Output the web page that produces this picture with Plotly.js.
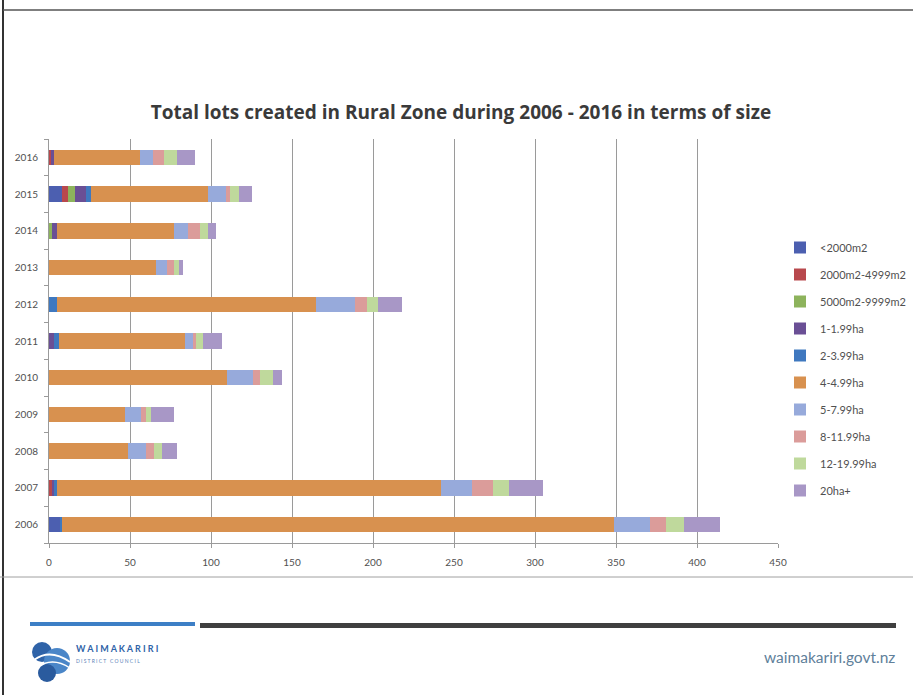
<!DOCTYPE html>
<html>
<head>
<meta charset="utf-8">
<script src="https://cdn.plot.ly/plotly-3.0.1.min.js"></script>
<style>
html,body{margin:0;padding:0;background:#fff;}
#chart{width:913px;height:695px;}
</style>
</head>
<body>
<div id="chart"></div>
<script>
// Categories (years, bottom to top)
const years = ["2006","2007","2008","2009","2010","2011","2012","2013","2014","2015","2016"];

// Series values, in the same order as years
const lt2000m2    = [7, 0, 0, 0, 0, 0, 0, 0, 0, 8, 0];
const m2000_4999  = [0, 2, 0, 0, 0, 0, 0, 0, 0, 4, 1];
const m5000_9999  = [0, 0, 0, 0, 0, 0, 0, 0, 2, 4, 0];
const ha1_199     = [0, 1, 0, 0, 0, 3, 0, 0, 3, 7, 2];
const ha2_399     = [1, 2, 0, 0, 0, 3, 5, 0, 0, 3, 0];
const ha4_499     = [341, 237, 49, 47, 110, 78, 160, 66, 72, 72, 53];
const ha5_799     = [22, 19, 11, 10, 16, 5, 24, 7, 9, 11, 8];
const ha8_1199    = [10, 13, 5, 3, 4, 2, 7, 4, 7, 3, 7];
const ha12_1999   = [11, 10, 5, 3, 8, 4, 7, 3, 5, 5, 8];
const ha20plus    = [22, 21, 9, 14, 6, 12, 15, 3, 5, 8, 11];

const seriesNames = ["<2000m2","2000m2-4999m2","5000m2-9999m2","1-1.99ha","2-3.99ha","4-4.99ha","5-7.99ha","8-11.99ha","12-19.99ha","20ha+"];
const seriesValues = [lt2000m2, m2000_4999, m5000_9999, ha1_199, ha2_399, ha4_499, ha5_799, ha8_1199, ha12_1999, ha20plus];
const seriesColors = ["#4c5fb0","#b8484d","#8db35c","#6a4f95","#3f78bf","#d8914f","#97aadb","#db9c9a","#bfd99c","#a897c6"];

const xTicks = [0,50,100,150,200,250,300,350,400,450];

const traces = seriesNames.map((n,i)=>({
  type:'bar',
  orientation:'h',
  name:n,
  y:years,
  x:seriesValues[i],
  marker:{color:seriesColors[i], line:{width:0}},
  legendgroup:'g'+i,
  hoverinfo:'name+x'
}));

const FONT = 'Lato, "Open Sans", "DejaVu Sans", sans-serif';
const L=49, R=778, T=139, B=543;
const PW=R-L, PH=B-T;
const px = v => (v-L)/PW;
const py = v => (B-v)/PH;

const layout = {
  width:913, height:695,
  paper_bgcolor:'#ffffff', plot_bgcolor:'#ffffff',
  margin:{l:L, r:913-R, t:T, b:695-B, pad:0, autoexpand:false},
  barmode:'stack',
  bargap:0.58,
  font:{family:FONT, color:'#505050', size:10},
  title:{text:'<b>Total lots created in Rural Zone during 2006 - 2016 in terms of size</b>',
         font:{family:'"Open Sans", Lato, sans-serif', size:19, color:'#3a3a3a'},
         x:461/913, xref:'container', xanchor:'center', y:1-112/695, yref:'container', yanchor:'middle'},
  xaxis:{range:[0,450], tickvals:xTicks, ticktext:xTicks.map(String), showgrid:true, gridcolor:'#9a9a9a', gridwidth:1,
         zeroline:false, showline:true, linecolor:'#9a9a9a', linewidth:1, ticks:'outside', ticklen:4, tickcolor:'#9a9a9a',
         ticklabelstandoff:6,
         tickfont:{size:10, color:'#505050', family:FONT}, fixedrange:true},
  yaxis:{type:'category', categoryorder:'array', categoryarray:years, showgrid:false, zeroline:false,
         showline:true, linecolor:'#9a9a9a', linewidth:1, ticks:'outside', ticklen:4, tickcolor:'#9a9a9a',
         tickson:'boundaries', tickfont:{size:10, color:'#505050', family:FONT}, ticklabelstandoff:8, fixedrange:true},
  showlegend:true,
  legend:{x:px(780), xanchor:'left', y:py(233), yanchor:'top', traceorder:'normal+grouped', tracegroupgap:8,
          font:{size:11, color:'#505050', family:FONT}, bgcolor:'rgba(0,0,0,0)', itemclick:false, itemdoubleclick:false},
  shapes:[
    // slide frame
    {type:'line', xref:'paper', yref:'paper', x0:px(3), x1:px(3), y0:py(0), y1:py(695), line:{color:'#333', width:2}},
    {type:'line', xref:'paper', yref:'paper', x0:px(3), x1:px(913), y0:py(10), y1:py(10), line:{color:'#555', width:1.5}},
    // horizontal rule under chart
    {type:'line', xref:'paper', yref:'paper', x0:px(0), x1:px(913), y0:py(577), y1:py(577), line:{color:'#a0a0a0', width:1}},
    // footer bars
    {type:'rect', xref:'paper', yref:'paper', x0:px(30), x1:px(195), y0:py(626), y1:py(622), line:{width:0}, fillcolor:'#3d7fc6'},
    {type:'rect', xref:'paper', yref:'paper', x0:px(200), x1:px(896), y0:py(628), y1:py(623), line:{width:0}, fillcolor:'#3f3f3f'},
    // logo waves (simple)
    {type:'circle', xref:'paper', yref:'paper', x0:px(32), x1:px(52), y0:py(642), y1:py(662), line:{width:0}, fillcolor:'#2f63a8'},
    {type:'circle', xref:'paper', yref:'paper', x0:px(44), x1:px(70), y0:py(648), y1:py(674), line:{width:0}, fillcolor:'#4a86c8'},
    {type:'circle', xref:'paper', yref:'paper', x0:px(38), x1:px(56), y0:py(664), y1:py(682), line:{width:0}, fillcolor:'#2a5b9e'},
    {type:'path', xref:'paper', yref:'paper', path:
      'M'+px(34)+','+py(660)+' Q'+px(50)+','+py(648)+' '+px(70)+','+py(662), line:{color:'#ffffff', width:2}},
    {type:'path', xref:'paper', yref:'paper', path:
      'M'+px(36)+','+py(668)+' Q'+px(52)+','+py(656)+' '+px(70)+','+py(668), line:{color:'#ffffff', width:1.5}}
  ],
  annotations:[
    {text:'<b>W A I M A K A R I R I</b>', xref:'paper', yref:'paper', x:px(74), y:py(648), xanchor:'left', yanchor:'middle',
     showarrow:false, font:{family:FONT, size:9, color:'#2f63a8'}},
    {text:'D I S T R I C T   C O U N C I L', xref:'paper', yref:'paper', x:px(74), y:py(661), xanchor:'left', yanchor:'middle',
     showarrow:false, font:{family:FONT, size:5, color:'#5a82b8'}},
    {text:'waimakariri.govt.nz', xref:'paper', yref:'paper', x:px(896), y:py(657), xanchor:'right', yanchor:'middle',
     showarrow:false, borderpad:0, font:{family:FONT, size:15.5, color:'#60809a'}}
  ]
};

Plotly.newPlot('chart', traces, layout, {displayModeBar:false, staticPlot:true});
</script>
</body>
</html>
